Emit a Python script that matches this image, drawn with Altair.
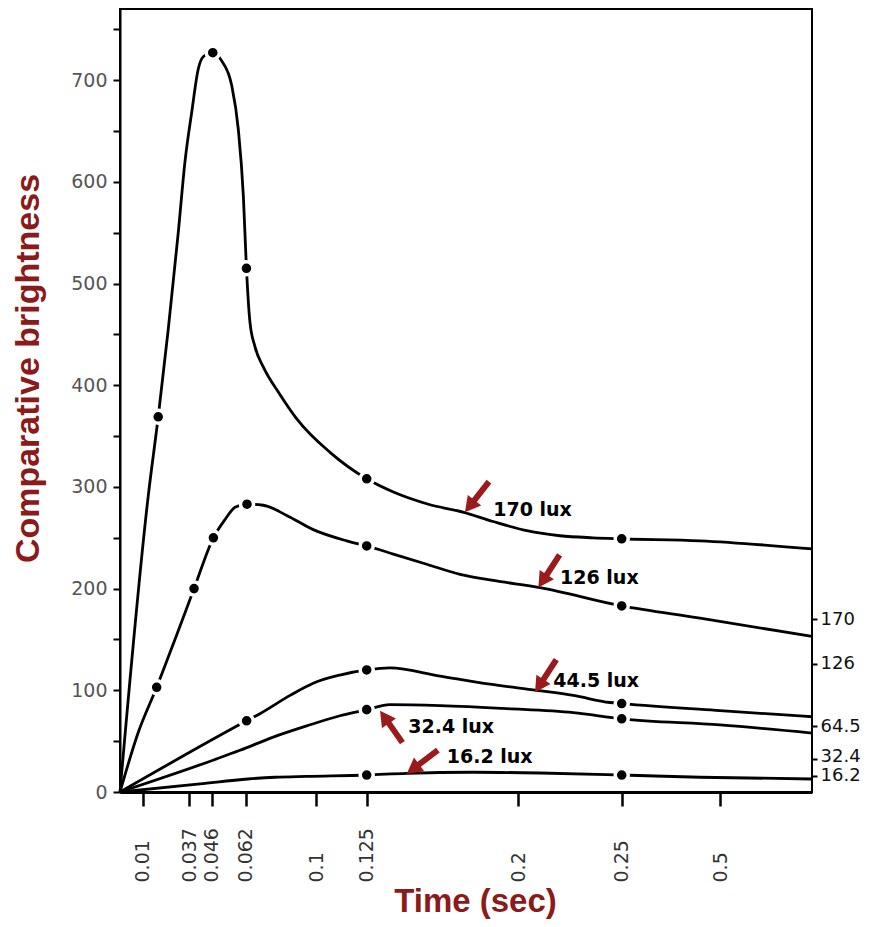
import altair as alt
import pandas as pd

# ---- axis ticks ----
x_ticks = [0.01, 0.037, 0.046, 0.062, 0.1, 0.125, 0.2, 0.25, 0.5]
x_end = 1.0
left_ticks = list(range(0, 751, 50))
right_ticks = [170, 126, 64.5, 32.4, 16.2]

# ---- curves (time in sec, comparative brightness) ----
t170 = [0, 0.0132, 0.0190, 0.0248, 0.0306, 0.0345, 0.0380, 0.0406, 0.0426, 0.0465,
        0.0507, 0.0554, 0.0585, 0.0609, 0.0624, 0.0643, 0.0670, 0.0715, 0.0805, 0.0896,
        0.1069, 0.125, 0.1382, 0.1555, 0.1730, 0.1875, 0.2041, 0.2202, 0.2361, 0.25,
        0.4491, 1.0]
v170 = [0, 291, 369, 455, 550, 620, 669, 711, 723, 727,
        719, 695, 652, 586, 515, 462, 438, 418, 391, 367,
        334, 308, 295, 283, 275, 266, 257, 252, 250, 249,
        247, 239]

t126 = [0, 0.0081, 0.0181, 0.0287, 0.0389, 0.0468, 0.0523, 0.0570, 0.0627, 0.0715,
        0.0842, 0.0985, 0.1151, 0.125, 0.1382, 0.1547, 0.1712, 0.1876, 0.2105, 0.25,
        0.4491, 1.0]
v126 = [0, 59, 103, 150, 200, 250, 268, 280, 283, 282,
        272, 258, 247, 242, 234, 224, 214, 208, 201, 183,
        171, 153]

t445 = [0, 0.0625, 0.0697, 0.0860, 0.0985, 0.1118, 0.125, 0.1365, 0.1613, 0.1860,
        0.2089, 0.2266, 0.2443, 0.25, 0.5, 1.0]
v445 = [0, 70, 77, 95, 107, 115, 120, 122, 114, 106,
        100, 95, 88, 87, 80, 74]

t324 = [0, 0.0476, 0.0593, 0.0769, 0.0950, 0.1118, 0.125, 0.1365, 0.1613, 0.1943,
        0.2266, 0.25, 0.5, 1.0]
v324 = [0, 32, 41, 54, 65, 75, 81, 86, 85, 82,
        78, 72, 66, 58]

t162 = [0, 0.0413, 0.0632, 0.0778, 0.0950, 0.125, 0.1448, 0.1777, 0.2105, 0.25, 0.4491, 1.0]
v162 = [0, 7.9, 12.8, 14.5, 15.4, 16.7, 18.4, 19.4, 18.7, 16.7, 14.5, 12.8]

# ---- measured points (dots) ----
dot_t170 = [0.0190, 0.0465, 0.0624, 0.125, 0.25]
dot_v170 = [369, 727, 515, 308, 249]
dot_t126 = [0.0181, 0.0389, 0.0468, 0.0627, 0.125, 0.25]
dot_v126 = [103, 200, 250, 283, 242, 183]
dot_t445 = [0.0625, 0.125, 0.25]
dot_v445 = [70, 120, 87]
dot_t324 = [0.125, 0.25]
dot_v324 = [81, 72]
dot_t162 = [0.125, 0.25]
dot_v162 = [16.7, 16.7]

# ---- annotations ----
ann_text = ["170 lux", "126 lux", "44.5 lux", "32.4 lux", "16.2 lux"]
ann_t = [0.1876, 0.2202, 0.2169, 0.1456, 0.1646]
ann_v = [277.5, 210.4, 108.7, 64.4, 34.1]
arrow_t = [0.1736, 0.2097, 0.2081, 0.1316, 0.1448]
arrow_v = [275, 201, 98, 80, 18]
arrow_angle = [218, 213, 213, 325, 233]

series = [("170", t170, v170), ("126", t126, v126), ("44.5", t445, v445),
          ("32.4", t324, v324), ("16.2", t162, v162)]
lines_df = pd.DataFrame([{"series": s, "t": t, "v": v}
                         for s, ts, vs in series for t, v in zip(ts, vs)])
dots = [("170", dot_t170, dot_v170), ("126", dot_t126, dot_v126),
        ("44.5", dot_t445, dot_v445), ("32.4", dot_t324, dot_v324),
        ("16.2", dot_t162, dot_v162)]
dots_df = pd.DataFrame([{"series": s, "t": t, "v": v}
                        for s, ts, vs in dots for t, v in zip(ts, vs)])
ann_df = pd.DataFrame({"label": ann_text, "t": ann_t, "v": ann_v})
arrow_df = pd.DataFrame({"t": arrow_t, "v": arrow_v, "a": arrow_angle})

W, H = 692, 783
x_scale = alt.Scale(type="linear", domain=[0] + x_ticks + [x_end],
                    range=[0, 22.7, 69.3, 91.7, 125.7, 196, 246.7, 398.3, 501.7, 600, W],
                    nice=False, zero=False)
y_scale = alt.Scale(domain=[0, 770], nice=False, zero=True)

TITLE_RED = "#8b1a1a"
ARROW_RED = "#9b1b1d"

x_axis = alt.Axis(values=x_ticks, labelExpr="datum.value + ''", labelAngle=270,
                  labelAlign="left", labelBaseline="middle", labelPadding=76,
                  tickSize=14, tickWidth=2.5, tickColor="black", domain=True,
                  domainWidth=3, domainColor="black",
                  labelFont="DejaVu Sans", labelFontSize=19, labelColor="#333",
                  labelOverlap=False, labelFlush=False, grid=False,
                  title="Time (sec)", titleFont="Liberation Sans", titleFontSize=33,
                  titleFontWeight="bold", titleColor=TITLE_RED, titleX=355, titleY=119,
                  titleBaseline="alphabetic", titleAlign="center")

y_axis = alt.Axis(values=left_ticks, format="d",
                  labelExpr="datum.value % 100 === 0 ? datum.label : ''",
                  tickSize=7, tickWidth=2, tickColor="black", domain=True,
                  domainWidth=2, domainColor="black",
                  labelFont="DejaVu Sans", labelFontSize=19, labelColor="#555",
                  labelPadding=6, labelOverlap=False, grid=False,
                  title="Comparative brightness", titleFont="Liberation Sans",
                  titleFontSize=34, titleFontWeight="bold", titleColor=TITLE_RED,
                  titleAngle=270, titleX=-92, titleY=359, titleBaseline="middle",
                  titleAlign="center")

y_axis_right = alt.Axis(orient="right", values=right_ticks,
                        labelExpr="datum.value + ''",
                        labelOffset={"condition": {"test": "datum.value === 32.4", "value": -3},
                                     "value": 0},
                        tickSize=5, tickWidth=2, tickColor="black", domain=False,
                        labelFont="DejaVu Sans", labelFontSize=18, labelColor="#111",
                        labelPadding=3, labelOverlap=False, grid=False, title=None)

X = alt.X("t:Q", scale=x_scale, axis=x_axis)

lines = alt.Chart(lines_df).mark_line(
    color="black", strokeWidth=2.8, interpolate="monotone"
).encode(
    x=X,
    y=alt.Y("v:Q", scale=y_scale, axis=y_axis),
    detail="series:N",
    order="t:Q",
)

points = alt.Chart(dots_df).mark_circle(
    color="black", size=170, opacity=1, stroke="white", strokeWidth=3.5
).encode(
    x=X,
    y=alt.Y("v:Q", scale=y_scale, axis=y_axis_right),
)

labels = alt.Chart(ann_df).mark_text(
    align="left", baseline="middle", font="DejaVu Sans", fontSize=19,
    fontWeight="bold", color="black"
).encode(
    x=X,
    y=alt.Y("v:Q", scale=y_scale, axis=None),
    text="label:N",
)

arrow_path = "M0,0 L0.85,1.55 L0.3,1.55 L0.3,3.9 L-0.3,3.9 L-0.3,1.55 L-0.85,1.55 Z"
arrows = alt.Chart(arrow_df).mark_point(
    shape=arrow_path, filled=True, size=400, color=ARROW_RED, opacity=1, strokeWidth=0
).encode(
    x=X,
    y=alt.Y("v:Q", scale=y_scale, axis=None),
    angle=alt.Angle("a:Q", scale=None),
)

chart = alt.layer(lines, points, labels, arrows).resolve_axis(
    y="independent"
).properties(
    width=W, height=H,
    autosize=alt.AutoSizeParams(type="none"),
    padding={"left": 112, "top": 1, "right": 61, "bottom": 127},
).configure_view(stroke="black", strokeWidth=2)

chart.save("out.html", embed_options={"renderer": "svg", "actions": False})
